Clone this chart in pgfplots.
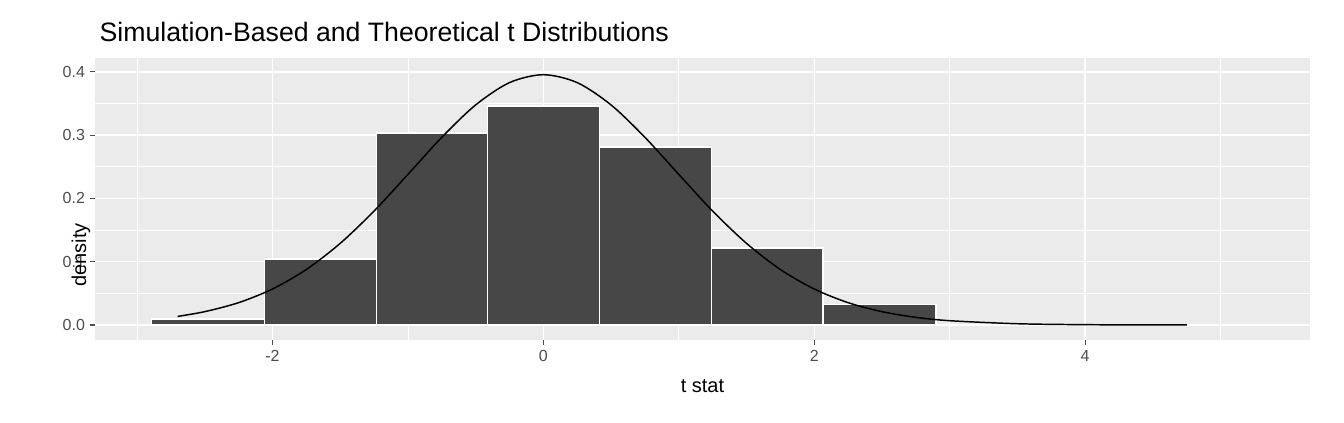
\documentclass[border=0pt]{standalone}
\usepackage{pgfplots}
\pgfplotsset{compat=1.18}
\usepackage{fontspec}
\setmainfont{Liberation Sans}
\definecolor{panel}{HTML}{EBEBEB}
\definecolor{barc}{HTML}{474747}
\definecolor{tickc}{HTML}{4D4D4D}
\begin{document}
\begin{tikzpicture}
\begin{axis}[
  at={(0,0)}, anchor=south west,
  scale only axis, width=911.25pt, height=211.5pt,
  xmin=-3.31, xmax=5.66, ymin=-0.0237, ymax=0.422,
  axis background/.style={fill=panel},
  axis line style={draw=none},
  xtick={-2,0,2,4}, ytick={0,0.1,0.2,0.3,0.4},
  minor xtick={-3,-1,1,3,5}, minor ytick={0.05,0.15,0.25,0.35},
  yticklabel style={/pgf/number format/fixed,/pgf/number format/fixed zerofill,/pgf/number format/precision=1},
  /pgf/number format/assume math mode=true,
  ticklabel style={font=\fontsize{12}{14}\selectfont, text=tickc},
  tick style={draw=tickc, line width=0.8pt},
  tick align=outside, major tick length=4pt, minor tick length=0pt,
  xtick pos=bottom, ytick pos=left,
  grid=both,
  major grid style={white, line width=1.1pt},
  minor grid style={white, line width=0.55pt},
  xlabel={t stat}, ylabel={density},
  label style={font=\fontsize{15}{17}\selectfont},
  xlabel style={at={(axis description cs:0.5,0)}, anchor=north, yshift=-26pt},
  ylabel style={at={(axis description cs:0,0.5)}, anchor=south, xshift=-42pt},
  clip=false,
]
\addplot[ybar interval, fill=barc, draw=white, line width=1.1pt] coordinates {
(-2.893,0.0095) (-2.059,0.104) (-1.232,0.3036) (-0.413,0.346) (0.413,0.281) (1.240,0.122) (2.066,0.032) (2.900,0.032)};
\addplot[black, line width=1.1pt, smooth] coordinates {
(-2.7,0.0136) (-2.5,0.0211) (-2.25,0.0353) (-2,0.0569) (-1.75,0.0877) (-1.5,0.1290) (-1.25,0.1801) (-1,0.2380) (-0.75,0.2966) (-0.5,0.3478) (-0.25,0.3831) (0,0.3956) (0.25,0.3831) (0.5,0.3478) (0.75,0.2966) (1,0.2380) (1.25,0.1801) (1.5,0.1290) (1.75,0.0877) (2,0.0569) (2.25,0.0353) (2.5,0.0211) (2.75,0.0121) (3,0.0068) (3.5,0.0020) (4,0.00053) (4.5,0.00013) (4.75,0.00007)};
\end{axis}
\node[anchor=base west, font=\fontsize{20}{24}\selectfont] at (0pt,224pt) {Simulation-Based and Theoretical t Distributions};
\useasboundingbox (-71.25pt,-61.5pt) rectangle (936.75pt,255pt);
\end{tikzpicture}
\end{document}
